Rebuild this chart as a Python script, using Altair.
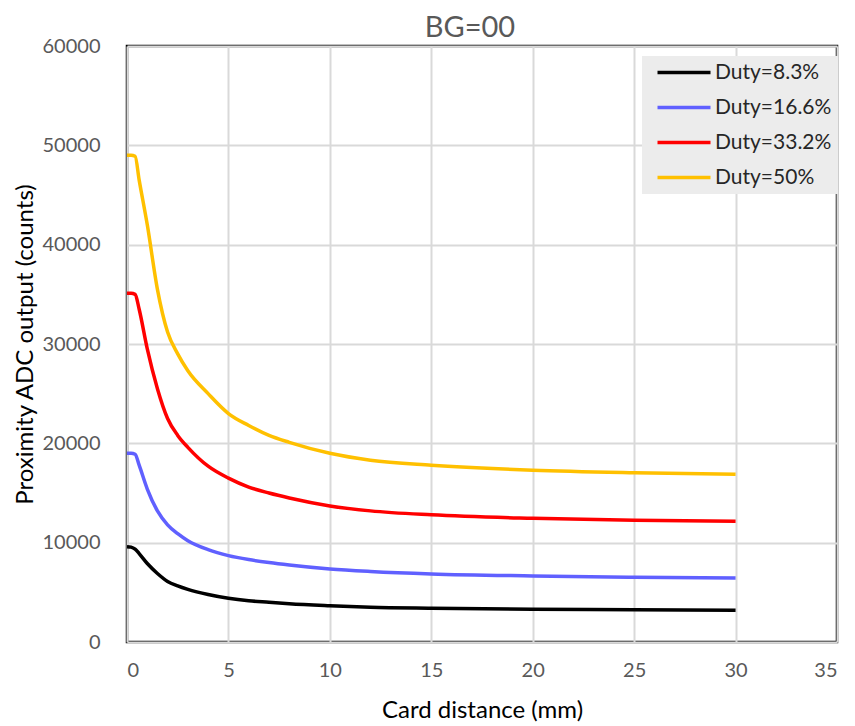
import altair as alt
import pandas as pd

distance = [0, 0.2, 0.4, 0.6, 1.0, 1.5, 2.0, 2.5, 3, 4, 5, 6, 7, 8, 10, 12, 15, 20, 25, 30]
duty_8_3 = [9600, 9550, 9350, 8900, 7900, 6900, 6100, 5650, 5300, 4780, 4400, 4150, 4000, 3850, 3650, 3500, 3400, 3300, 3250, 3200]
duty_16_6 = [19000, 19000, 18900, 17800, 15400, 13200, 11800, 10900, 10200, 9300, 8700, 8300, 8000, 7750, 7350, 7100, 6850, 6650, 6520, 6450]
duty_33_2 = [35100, 35100, 35000, 33500, 29500, 25500, 22500, 20800, 19600, 17700, 16500, 15600, 15000, 14500, 13700, 13200, 12800, 12450, 12250, 12150]
duty_50 = [49000, 49000, 48900, 46500, 42000, 35500, 31200, 29000, 27300, 25000, 23000, 21800, 20800, 20100, 19000, 18300, 17800, 17300, 17050, 16900]

series_names = ["Duty=8.3%", "Duty=16.6%", "Duty=33.2%", "Duty=50%"]
series_colors = ["#000000", "#6060ff", "#ff0000", "#ffc000"]
series_values = [duty_8_3, duty_16_6, duty_33_2, duty_50]

rows = []
for name, vals in zip(series_names, series_values):
    for d, v in zip(distance, vals):
        rows.append({"distance": d, "counts": v, "series": name})
df = pd.DataFrame(rows)

FONT = "Lato"

chart = (
    alt.Chart(df)
    .mark_line(strokeWidth=3.5, interpolate="monotone")
    .encode(
        x=alt.X(
            "distance:Q",
            title="Card distance (mm)",
            scale=alt.Scale(domain=[0, 35], nice=False),
            axis=alt.Axis(
                values=[0, 5, 10, 15, 20, 25, 30, 35],
                labelFontSize=20,
                labelColor="#595959",
                labelPadding=18,
                ticks=False,
                tickSize=0,
                domain=False,
                titleFontSize=24,
                titleFontWeight="normal",
                titleColor="#000000",
                titlePadding=18,
                gridColor="#d9d9d9",
                gridWidth=2,
            ),
        ),
        y=alt.Y(
            "counts:Q",
            title="Proximity ADC output (counts)",
            scale=alt.Scale(domain=[0, 60000], nice=False),
            axis=alt.Axis(
                values=[0, 10000, 20000, 30000, 40000, 50000, 60000],
                format="d",
                labelFontSize=20,
                labelColor="#595959",
                labelPadding=27,
                ticks=False,
                tickSize=0,
                domain=False,
                titleFontSize=24,
                titleFontWeight="normal",
                titleColor="#000000",
                titleX=-95,
                titleY=298,
                titleBaseline="alphabetic",
                gridColor="#d9d9d9",
                gridWidth=2,
            ),
        ),
        color=alt.Color(
            "series:N",
            scale=alt.Scale(domain=series_names, range=series_colors),
            legend=alt.Legend(
                title=None,
                orient="none",
                legendX=515,
                legendY=10,
                fillColor="#ececec",
                padding=6,
                symbolType="M-0.125,0H6.5",
                symbolSize=256,
                symbolStrokeWidth=3.5,
                labelOffset=46,
                labelFontSize=21,
                labelColor="#262626",
                labelFont=FONT,
                rowPadding=13,
            ),
        ),
    )
    .properties(
        width=710,
        height=596,
        title=alt.TitleParams(
            "BG=00", fontSize=29, fontWeight="normal", color="#595959", font=FONT,
            offset=12, dx=-12, dy=19
        ),
        autosize=alt.AutoSizeParams(type="none"),
        padding={"left": 119, "top": 38, "right": 10, "bottom": 80},
    )
    .configure(font=FONT)
    .configure_axis(labelFont=FONT, titleFont=FONT)
    .configure_view(stroke="#000000", strokeWidth=2.5)
)

chart.save("out.html", embed_options={"renderer": "svg", "actions": False})
